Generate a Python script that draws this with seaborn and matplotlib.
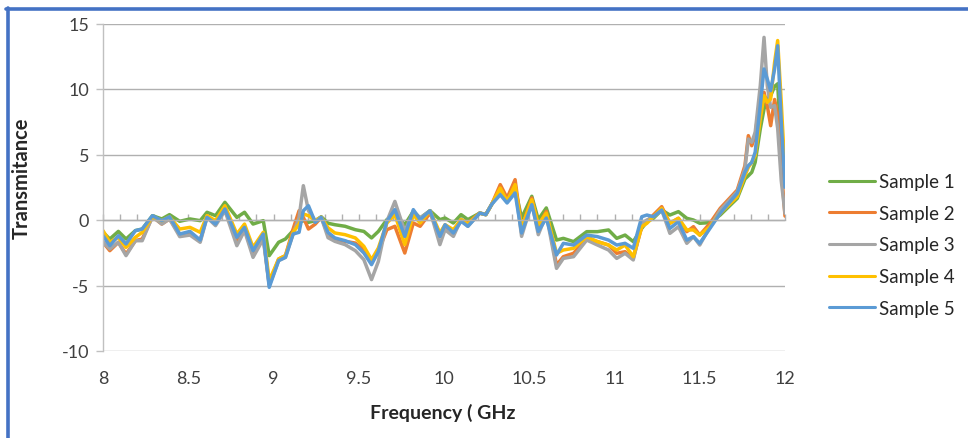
import numpy as np
import pandas as pd
import matplotlib
matplotlib.use("Agg")
import matplotlib.pyplot as plt
import seaborn as sns
from matplotlib.lines import Line2D
from matplotlib.ticker import MultipleLocator, FuncFormatter

# Frequency sweep (GHz) shared by all samples
freq = [8.000, 8.040, 8.090, 8.135, 8.190, 8.230, 8.290, 8.345, 8.390, 8.450,
        8.510, 8.570, 8.610, 8.660, 8.715, 8.785, 8.830, 8.880, 8.940, 8.975,
        9.030, 9.070, 9.115, 9.150, 9.175, 9.205, 9.245, 9.280, 9.320, 9.360,
        9.420, 9.480, 9.530, 9.575, 9.615, 9.665, 9.712, 9.770, 9.820, 9.860,
        9.918, 9.976, 10.006, 10.055, 10.100, 10.140, 10.210, 10.245, 10.280, 10.330,
        10.370, 10.417, 10.455, 10.515, 10.553, 10.600, 10.660, 10.700, 10.760, 10.837,
        10.900, 10.965, 11.013, 11.062, 11.110, 11.160, 11.190, 11.228, 11.277, 11.325,
        11.375, 11.424, 11.463, 11.500, 11.560, 11.620, 11.720, 11.765, 11.785, 11.805,
        11.825, 11.855, 11.877, 11.896, 11.916, 11.939, 11.957, 11.978, 12.000]

sample_1 = [-0.94, -1.45, -0.87, -1.45, -0.81, -0.69, 0.33, 0.08, 0.41, -0.10,
            0.08, -0.05, 0.59, 0.33, 1.35, 0.20, 0.59, -0.31, -0.05, -2.72,
            -1.70, -1.45, -0.81, -0.18, -0.05, -0.18, -0.05, 0.25, -0.25, -0.36,
            -0.48, -0.74, -0.87, -1.37, -0.87, 0.03, 0.41, -0.36, 0.66, 0.15,
            0.71, 0.03, 0.15, -0.23, 0.41, 0.03, 0.53, 0.41, 1.20, 2.19,
            1.42, 2.44, 0.15, 1.81, 0.03, 0.92, -1.53, -1.40, -1.65, -0.89,
            -0.89, -0.76, -1.40, -1.15, -1.65, -0.64, -0.13, 0.13, 0.76, 0.38,
            0.64, 0.13, 0.00, -0.25, -0.20, 0.38, 1.65, 3.13, 3.38, 3.64,
            4.40, 6.95, 8.47, 9.24, 9.49, 10.20, 10.40, 5.50, 4.50]

sample_2 = [-1.70, -2.34, -1.70, -2.60, -1.58, -1.45, 0.25, -0.31, 0.08, -1.07,
            -1.02, -1.58, 0.33, -0.18, 0.97, -1.58, -0.69, -2.60, -1.32, -4.89,
            -2.98, -2.72, -0.69, 0.71, 0.20, -0.69, -0.31, 0.20, -1.10, -1.50,
            -1.63, -1.76, -2.26, -3.28, -2.39, -0.74, -0.48, -2.52, -0.23, -0.48,
            0.53, -1.25, -0.48, -0.87, 0.03, -0.23, 0.53, 0.41, 1.20, 2.70,
            1.68, 3.08, -0.61, 1.68, -0.48, 0.66, -3.44, -2.80, -2.54, -1.40,
            -1.65, -1.91, -2.54, -2.42, -2.93, -0.51, -0.13, 0.38, 1.02, -0.25,
            0.13, -0.89, -0.51, -1.15, -0.25, 0.89, 2.29, 4.15, 6.44, 5.67,
            6.44, 9.49, 9.75, 8.73, 7.20, 9.20, 8.00, 4.00, 0.30]

sample_3 = [-1.70, -2.21, -1.70, -2.72, -1.58, -1.58, 0.25, -0.31, 0.08, -1.27,
            -1.15, -1.70, 0.20, -0.43, 0.71, -1.96, -0.81, -2.85, -1.45, -5.01,
            -3.10, -2.85, -1.07, 0.20, 2.62, 0.71, -0.05, 0.20, -1.35, -1.63,
            -1.88, -2.34, -3.03, -4.55, -3.16, -0.10, 1.42, -0.87, 0.66, 0.15,
            0.71, -1.88, -0.74, -1.25, 0.03, -0.48, 0.53, 0.41, 1.20, 2.32,
            1.42, 2.57, -1.25, 1.30, -1.12, 0.41, -3.69, -2.93, -2.80, -1.53,
            -1.91, -2.29, -2.93, -2.54, -3.05, -0.25, 0.00, 0.25, 0.76, -1.02,
            -0.51, -1.78, -1.27, -1.91, -0.51, 0.76, 2.16, 3.89, 6.18, 5.93,
            6.69, 10.25, 13.94, 10.25, 8.60, 8.73, 7.00, 3.00, 0.50]

sample_4 = [-0.81, -1.70, -1.32, -2.09, -1.32, -0.94, 0.25, -0.05, 0.25, -0.69,
            -0.56, -0.94, 0.33, -0.05, 1.09, -1.07, -0.31, -2.09, -0.94, -4.63,
            -2.98, -2.72, -0.94, -0.31, 0.46, 0.33, -0.05, 0.20, -0.60, -0.99,
            -1.12, -1.37, -2.01, -3.03, -2.14, -0.23, 0.41, -1.88, 0.41, -0.23,
            0.71, -0.99, -0.36, -0.74, 0.03, -0.31, 0.53, 0.41, 1.20, 2.44,
            1.42, 2.70, -0.61, 1.55, -0.36, 0.53, -2.54, -2.29, -2.16, -1.27,
            -1.65, -1.91, -2.29, -1.91, -2.80, -0.51, -0.25, 0.25, 0.89, -0.25,
            0.13, -0.76, -0.76, -1.15, -0.51, 0.51, 1.78, 3.38, 4.02, 4.40,
            4.91, 7.71, 9.49, 8.98, 9.24, 12.04, 13.70, 9.00, 3.50]

sample_5 = [-1.20, -1.96, -1.20, -1.83, -0.81, -0.69, 0.33, -0.05, 0.25, -1.07,
            -0.87, -1.53, 0.20, -0.31, 0.84, -1.32, -0.56, -2.34, -1.07, -5.14,
            -3.10, -2.85, -1.07, -0.94, 0.71, 1.09, -0.18, 0.20, -0.95, -1.37,
            -1.58, -1.88, -2.52, -3.41, -2.39, -0.10, 0.79, -1.25, 0.79, 0.03,
            0.71, -1.25, -0.36, -0.99, -0.10, -0.48, 0.53, 0.41, 1.20, 1.93,
            1.30, 2.06, -0.99, 1.17, -0.87, 0.15, -2.67, -1.78, -1.91, -1.15,
            -1.27, -1.53, -1.91, -1.78, -2.16, 0.25, 0.38, 0.25, 0.76, -0.64,
            -0.13, -1.53, -1.27, -1.78, -0.64, 0.51, 2.04, 3.64, 4.15, 4.40,
            5.17, 8.73, 11.53, 10.76, 9.87, 11.53, 13.30, 7.50, 2.50]

sample_names = ["Sample 1", "Sample 2", "Sample 3", "Sample 4", "Sample 5"]
line_colors = ["#70AD47", "#ED7D31", "#A5A5A5", "#FFC000", "#5B9BD5"]
x_ticks = [8, 8.5, 9, 9.5, 10, 10.5, 11, 11.5, 12]
y_ticks = [-10, -5, 0, 5, 10, 15]

all_series = [sample_1, sample_2, sample_3, sample_4, sample_5]
df = pd.DataFrame({
    "Frequency": np.tile(freq, len(all_series)),
    "Transmitance": np.concatenate(all_series),
    "Sample": np.repeat(sample_names, len(freq)),
})

sns.set_theme(style="white")
plt.rcParams["font.family"] = ["Lato", "DejaVu Sans"]
plt.rcParams["axes.unicode_minus"] = False

W, H = 968, 439
fig = plt.figure(figsize=(W / 100, H / 100), dpi=100)
fig.patch.set_facecolor("white")

left, right, top, bottom = 103, 785, 24.5, 352
ax = fig.add_axes([left / W, 1 - bottom / H, (right - left) / W, (bottom - top) / H])

sns.lineplot(data=df, x="Frequency", y="Transmitance", hue="Sample",
             palette=dict(zip(sample_names, line_colors)), sort=False,
             estimator=None, errorbar=None, linewidth=2.5, legend=False, ax=ax,
             solid_joinstyle="round", solid_capstyle="round")

ax.set_xlim(8, 12)
ax.set_ylim(-10, 15)
ax.set_xlabel("")
ax.set_ylabel("")

grid_c = "#b0b0b0"
ax.set_yticks(y_ticks)
ax.grid(axis="y", color=grid_c, linewidth=1.0, zorder=0)
ax.grid(axis="x", visible=False)
ax.set_axisbelow(True)

for s in ["top", "right"]:
    ax.spines[s].set_visible(False)
ax.spines["left"].set_color("#c0c0c0")
ax.spines["left"].set_linewidth(1.0)
ax.spines["bottom"].set_position(("data", 0))
ax.spines["bottom"].set_color(grid_c)
ax.spines["bottom"].set_linewidth(1.0)

# minor frequency ticks along the zero line
ax.xaxis.set_major_locator(MultipleLocator(0.1))
ax.tick_params(axis="x", direction="in", length=4, width=1, color=grid_c,
               labelbottom=False, bottom=True)
ax.tick_params(axis="y", direction="out", length=5, width=1, color="#c0c0c0",
               labelsize=13, labelcolor="#404040", pad=5, left=True)

# frequency labels along the bottom edge
sec = ax.secondary_xaxis("bottom")
sec.set_xticks(x_ticks)
sec.xaxis.set_major_formatter(FuncFormatter(lambda v, p: f"{v:g}"))
sec.tick_params(length=0, pad=14, labelsize=13, labelcolor="#404040")
sec.spines["bottom"].set_visible(False)

fig.text(443 / W, 1 - 413 / H, "Frequency ( GHz", ha="center", va="center",
         fontsize=14, fontweight="bold", color="#262626")
fig.text(22 / W, 1 - 178 / H, "Transmitance", ha="center", va="center",
         rotation=90, fontsize=14.5, fontweight="bold", color="#262626")

handles = [Line2D([], [], color=c, linewidth=2.2) for c in line_colors]
fig.legend(handles, sample_names, loc="center left",
           bbox_to_anchor=(829 / W, 1 - 246 / H), frameon=False,
           fontsize=13.5, handlelength=2.45, handletextpad=0.22,
           labelspacing=0.78, borderpad=0, borderaxespad=0,
           labelcolor="#262626")

# blue frame along the left and top edges
frame_c = "#4472C4"
fig.add_artist(Line2D([8 / W, 8 / W], [0, 1 - 8.5 / H], color=frame_c,
                      linewidth=2.6, transform=fig.transFigure))
fig.add_artist(Line2D([6 / W, 1], [1 - 10.3 / H, 1 - 10.3 / H], color=frame_c,
                      linewidth=2.6, transform=fig.transFigure))

fig.savefig("out.png", dpi=100, facecolor="white")
